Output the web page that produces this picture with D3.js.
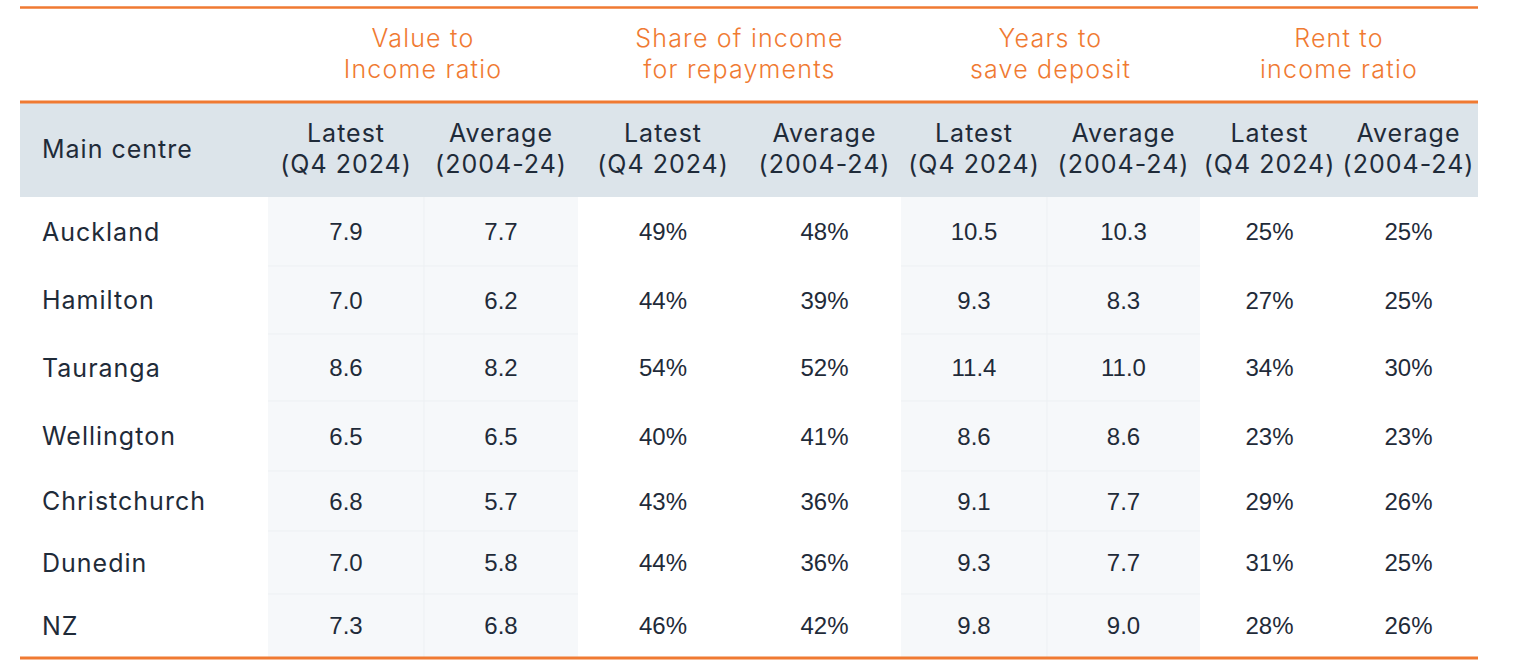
<!DOCTYPE html>
<html><head><meta charset="utf-8">
<script src="https://cdn.jsdelivr.net/npm/d3@7"></script>
<style>
html,body{margin:0;padding:0;background:#fff;}
svg{display:block;}
</style></head>
<body><svg id="chart" width="1518" height="668"></svg>
<script>
// ---- data ----
const cities = ["Auckland","Hamilton","Tauranga","Wellington","Christchurch","Dunedin","NZ"];
const valueIncomeLatest = [7.9,7.0,8.6,6.5,6.8,7.0,7.3];
const valueIncomeAvg    = [7.7,6.2,8.2,6.5,5.7,5.8,6.8];
const repaymentLatest   = [49,44,54,40,43,44,46];
const repaymentAvg      = [48,39,52,41,36,36,42];
const depositLatest     = [10.5,9.3,11.4,8.6,9.1,9.3,9.8];
const depositAvg        = [10.3,8.3,11.0,8.6,7.7,7.7,9.0];
const rentLatest        = [25,27,34,23,29,31,28];
const rentAvg           = [25,25,30,23,26,25,26];
const groupTitles = [["Value to","Income ratio"],["Share of income","for repayments"],["Years to","save deposit"],["Rent to","income ratio"]];
const subHeaders = [["Latest","(Q4 2024)"],["Average","(2004-24)"]];
const firstHeader = "Main centre";

// ---- layout ----
const ORANGE = "#f07a32", TEXT = "#1f2b39", BAND = "#dce4ea", SHADE = "#f6f8fa", GRID = "#edf0f3";
const left = 20, right = 1478;
const colWidths = [156,154,170,153,146,153,139,139];
const dataStart = 268;
const colEdges = [dataStart];
colWidths.forEach(w => colEdges.push(colEdges[colEdges.length-1] + w));
const colCenter = i => (colEdges[i] + colEdges[i+1]) / 2;

const headTop = 103, headBottom = 197, tableBottom = 657;
const rowHeights = [69,68,67,70,60,63,63];
const rowEdges = [headBottom];
rowHeights.forEach(h => rowEdges.push(rowEdges[rowEdges.length-1] + h));
const yTop = d3.scaleOrdinal().domain(cities).range(rowEdges.slice(0, -1));
const yMid = c => yTop(c) + rowHeights[cities.indexOf(c)] / 2;

const series = [
  {vals: valueIncomeLatest, fmt: d3.format(".1f")},
  {vals: valueIncomeAvg,    fmt: d3.format(".1f")},
  {vals: repaymentLatest,   fmt: d => d + "%"},
  {vals: repaymentAvg,      fmt: d => d + "%"},
  {vals: depositLatest,     fmt: d3.format(".1f")},
  {vals: depositAvg,        fmt: d3.format(".1f")},
  {vals: rentLatest,        fmt: d => d + "%"},
  {vals: rentAvg,           fmt: d => d + "%"}
];

const svg = d3.select("#chart");
const FONT = "Inter, 'Noto Sans', sans-serif";
const NUMFONT = "'Liberation Sans', Arial, sans-serif";

// shaded columns (groups 1 and 3)
[0,1,4,5].forEach(i => {
  svg.append("rect").attr("x", colEdges[i]).attr("y", headBottom)
    .attr("width", colWidths[i]).attr("height", tableBottom - headBottom).attr("fill", SHADE);
});
// faint grid in shaded columns
[[0,2],[4,6]].forEach(([a,b]) => {
  cities.slice(1).forEach(c => {
    svg.append("line").attr("x1", colEdges[a]).attr("x2", colEdges[b])
      .attr("y1", yTop(c)).attr("y2", yTop(c)).attr("stroke", GRID).attr("stroke-width", 1);
  });
  svg.append("line").attr("x1", colEdges[a+1]).attr("x2", colEdges[a+1])
    .attr("y1", headBottom).attr("y2", tableBottom).attr("stroke", GRID).attr("stroke-width", 1);
});

// header band
svg.append("rect").attr("x", left).attr("y", headTop).attr("width", right - left)
  .attr("height", headBottom - headTop).attr("fill", BAND);

// orange rules
[[7.5,2.5],[102,3],[658,3]].forEach(([yy,w]) => {
  svg.append("line").attr("x1", left).attr("x2", right).attr("y1", yy).attr("y2", yy)
    .attr("stroke", ORANGE).attr("stroke-width", w);
});

// group titles
groupTitles.forEach((lines, g) => {
  const cx = (colEdges[g*2] + colEdges[g*2+2]) / 2;
  lines.forEach((t, k) => {
    svg.append("text").attr("x", cx).attr("y", 47 + k*31).attr("text-anchor", "middle")
      .attr("font-family", FONT).attr("font-size", 25).attr("letter-spacing", 1.2)
      .attr("fill", ORANGE).attr("font-weight", 300).text(t);
  });
});

// sub headers
svg.append("text").attr("x", 42).attr("y", 158).attr("font-family", FONT)
  .attr("font-size", 25).attr("letter-spacing", 1).attr("fill", TEXT).text(firstHeader);
series.forEach((s, i) => {
  subHeaders[i % 2].forEach((t, k) => {
    svg.append("text").attr("x", colCenter(i)).attr("y", 142 + k*31).attr("text-anchor", "middle")
      .attr("font-family", FONT).attr("font-size", 25).attr("letter-spacing", 1)
      .attr("fill", TEXT).text(t);
  });
});

// rows
cities.forEach((c, r) => {
  const cy = yMid(c);
  svg.append("text").attr("x", 42).attr("y", cy).attr("dy", "0.36em")
    .attr("font-family", FONT).attr("font-size", 25).attr("letter-spacing", 1)
    .attr("fill", TEXT).text(c);
  series.forEach((s, i) => {
    svg.append("text").attr("x", colCenter(i)).attr("y", cy).attr("dy", "0.36em")
      .attr("text-anchor", "middle").attr("font-family", NUMFONT).attr("font-size", 24)
      .attr("fill", TEXT).text(s.fmt(s.vals[r]));
  });
});
</script></body></html>
